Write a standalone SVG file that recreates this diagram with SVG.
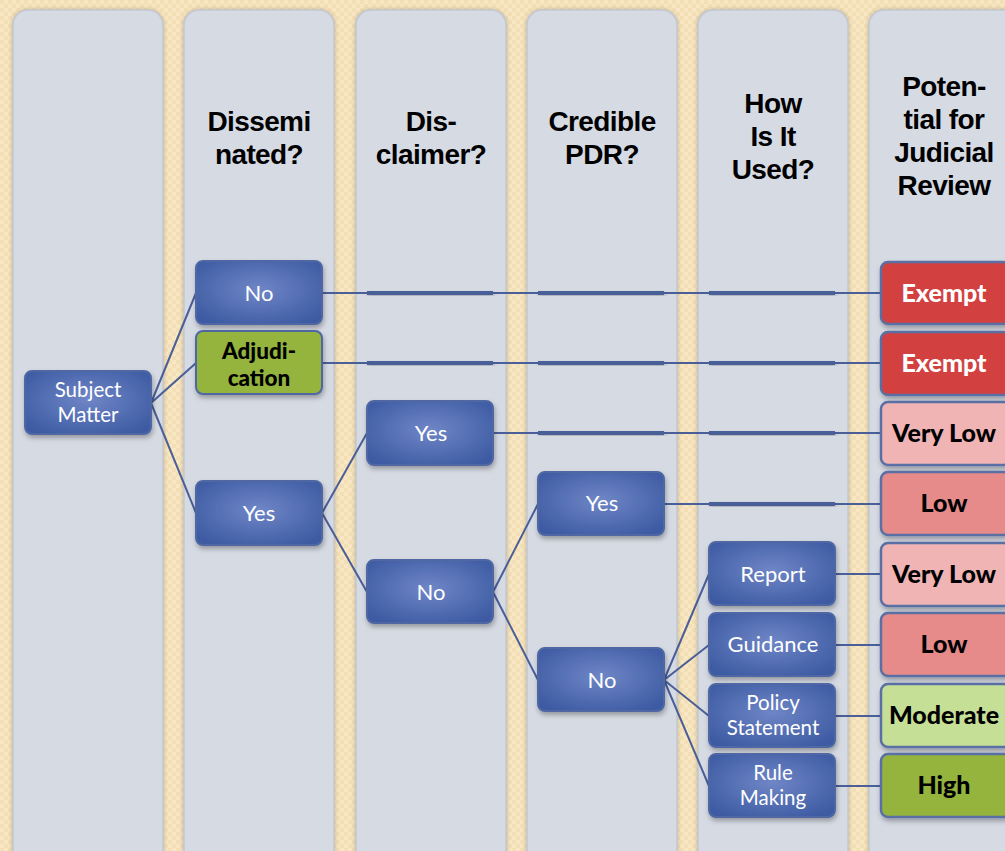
<svg xmlns="http://www.w3.org/2000/svg" width="1005" height="851" viewBox="0 0 1005 851">
<defs>
<pattern id="bgp" width="8" height="8" patternUnits="userSpaceOnUse">
<rect width="8" height="8" fill="#f8e7c2"/>
<rect x="0" y="0" width="4" height="4" fill="#f3dfb6"/>
<rect x="4" y="4" width="4" height="4" fill="#f3dfb6"/>
</pattern>
<radialGradient id="blue" cx="50%" cy="45%" r="65%">
<stop offset="0" stop-color="#6f86c6"/>
<stop offset="1" stop-color="#3c5aa2"/>
</radialGradient>
<filter id="sh" x="-10%" y="-10%" width="125%" height="130%">
<feDropShadow dx="1" dy="3" stdDeviation="2.5" flood-color="#000" flood-opacity="0.3"/>
</filter>
<filter id="csh" x="-10%" y="-5%" width="120%" height="110%">
<feDropShadow dx="0" dy="0" stdDeviation="2" flood-color="#8a7a5a" flood-opacity="0.5"/>
</filter>
</defs>
<style>
.col{fill:#d6dae3;stroke:#c3c7d1;stroke-width:1.5;filter:url(#csh)}
.hdr{font-family:"Liberation Sans",Arial,sans-serif;font-weight:bold;font-size:28px;letter-spacing:-0.6px;fill:#000;text-anchor:middle}
.nb{fill:url(#blue);stroke:#4f67a3;stroke-width:2;filter:url(#sh)}
.nt{font-family:Lato,"Open Sans",sans-serif;font-size:22px;fill:#fff;text-anchor:middle}
.nt2{font-family:Lato,"Open Sans",sans-serif;font-size:20.5px;fill:#fff;text-anchor:middle}
.rt{font-family:Lato,"Open Sans",sans-serif;font-size:25px;font-weight:900;fill:#000;text-anchor:middle}
.rt2{font-family:Lato,"Open Sans",sans-serif;font-size:22.5px;font-weight:900;fill:#000;text-anchor:middle}
.rtw{font-family:Lato,"Open Sans",sans-serif;font-size:25px;font-weight:900;fill:#fff;text-anchor:middle}
.rb{stroke:#5a6fa5;stroke-width:2.5;filter:url(#sh)}
.ln{stroke:#4a5f98;stroke-width:2;fill:none}
.bar{fill:#4a5f98;filter:url(#sh)}
</style>
<rect width="1005" height="851" fill="url(#bgp)"/>
<g id="columns">
<rect class="col" x="13" y="10" width="150" height="860" rx="15"/>
<rect class="col" x="184" y="10" width="150" height="860" rx="15"/>
<rect class="col" x="356" y="10" width="150" height="860" rx="15"/>
<rect class="col" x="527" y="10" width="150" height="860" rx="15"/>
<rect class="col" x="698" y="10" width="150" height="860" rx="15"/>
<rect class="col" x="869" y="10" width="150" height="860" rx="15"/>
</g>
<g id="headers">
<text class="hdr" x="259" y="131">Dissemi</text>
<text class="hdr" x="259" y="164">nated?</text>
<text class="hdr" x="431" y="131">Dis-</text>
<text class="hdr" x="431" y="164">claimer?</text>
<text class="hdr" x="602" y="131">Credible</text>
<text class="hdr" x="602" y="164">PDR?</text>
<text class="hdr" x="773" y="113">How</text>
<text class="hdr" x="773" y="146">Is It</text>
<text class="hdr" x="773" y="179">Used?</text>
<text class="hdr" x="944" y="96">Poten-</text>
<text class="hdr" x="944" y="129">tial for</text>
<text class="hdr" x="944" y="162">Judicial</text>
<text class="hdr" x="944" y="195">Review</text>
</g>
<g id="connectors">
<path class="ln" d="M151 403 L196 293 M151 403 L196 363 M151 403 L196 513"/>
<path class="ln" d="M322 293 H881 M322 363 H881 M493 433 H881 M664 504 H881"/>
<path class="ln" d="M322 513 L367 433 M322 513 L367 592"/>
<path class="ln" d="M493 592 L538 504 M493 592 L538 680"/>
<path class="ln" d="M664 680 L709 574 M664 680 L709 645 M664 680 L709 716 M664 680 L709 786"/>
<path class="ln" d="M835 574 H881 M835 645 H881 M835 716 H881 M835 786 H881"/>
<rect class="bar" x="367" y="291" width="126" height="4"/>
<rect class="bar" x="538" y="291" width="126" height="4"/>
<rect class="bar" x="709" y="291" width="126" height="4"/>
<rect class="bar" x="367" y="361" width="126" height="4"/>
<rect class="bar" x="538" y="361" width="126" height="4"/>
<rect class="bar" x="709" y="361" width="126" height="4"/>
<rect class="bar" x="538" y="431" width="126" height="4"/>
<rect class="bar" x="709" y="431" width="126" height="4"/>
<rect class="bar" x="709" y="502" width="126" height="4"/>
</g>
<g id="n-subject"><rect class="nb" x="25" y="371" width="126" height="63" rx="7"/><text class="nt2" x="88" y="397">Subject</text><text class="nt2" x="88" y="422">Matter</text></g>
<g id="n-diss-no"><rect class="nb" x="196" y="261" width="126" height="63" rx="7"/><text class="nt" x="259" y="301">No</text></g>
<g id="n-adjud"><rect x="196" y="331" width="126" height="63" rx="7" fill="#94b43e" stroke="#4f67a3" stroke-width="2" filter="url(#sh)"/><text class="rt2" x="259" y="359">Adjudi-</text><text class="rt2" x="259" y="386">cation</text></g>
<g id="n-diss-yes"><rect class="nb" x="196" y="481" width="126" height="64" rx="7"/><text class="nt" x="259" y="521">Yes</text></g>
<g id="n-disc-yes"><rect class="nb" x="367" y="401" width="126" height="64" rx="7"/><text class="nt" x="431" y="441">Yes</text></g>
<g id="n-disc-no"><rect class="nb" x="367" y="560" width="126" height="63" rx="7"/><text class="nt" x="431" y="600">No</text></g>
<g id="n-pdr-yes"><rect class="nb" x="538" y="472" width="126" height="63" rx="7"/><text class="nt" x="602" y="511">Yes</text></g>
<g id="n-pdr-no"><rect class="nb" x="538" y="648" width="126" height="63" rx="7"/><text class="nt" x="602" y="688">No</text></g>
<g id="n-report"><rect class="nb" x="709" y="542" width="126" height="63" rx="7"/><text class="nt" x="773" y="582">Report</text></g>
<g id="n-guidance"><rect class="nb" x="709" y="613" width="126" height="63" rx="7"/><text class="nt" x="773" y="652">Guidance</text></g>
<g id="n-policy"><rect class="nb" x="709" y="684" width="126" height="63" rx="7"/><text class="nt2" x="773" y="710">Policy</text><text class="nt2" x="773" y="735">Statement</text></g>
<g id="n-rule"><rect class="nb" x="709" y="754" width="126" height="63" rx="7"/><text class="nt2" x="773" y="780">Rule</text><text class="nt2" x="773" y="805">Making</text></g>
<g id="r-exempt1"><rect class="rb" x="881" y="262" width="130" height="62" rx="7" fill="#d24141"/><text class="rtw" x="944" y="302">Exempt</text></g>
<g id="r-exempt2"><rect class="rb" x="881" y="332" width="130" height="63" rx="7" fill="#d24141"/><text class="rtw" x="944" y="372">Exempt</text></g>
<g id="r-verylow1"><rect class="rb" x="881" y="402" width="130" height="63" rx="7" fill="#f0b4b5"/><text class="rt" x="944" y="442">Very Low</text></g>
<g id="r-low1"><rect class="rb" x="881" y="472" width="130" height="63" rx="7" fill="#e78b8a"/><text class="rt" x="944" y="512">Low</text></g>
<g id="r-verylow2"><rect class="rb" x="881" y="543" width="130" height="63" rx="7" fill="#f0b4b5"/><text class="rt" x="944" y="583">Very Low</text></g>
<g id="r-low2"><rect class="rb" x="881" y="613" width="130" height="63" rx="7" fill="#e78b8a"/><text class="rt" x="944" y="653">Low</text></g>
<g id="r-moderate"><rect class="rb" x="881" y="684" width="130" height="63" rx="7" fill="#c6df96"/><text class="rt" x="944" y="724">Moderate</text></g>
<g id="r-high"><rect class="rb" x="881" y="754" width="130" height="63" rx="7" fill="#94b43e"/><text class="rt" x="944" y="794">High</text></g>
</svg>
